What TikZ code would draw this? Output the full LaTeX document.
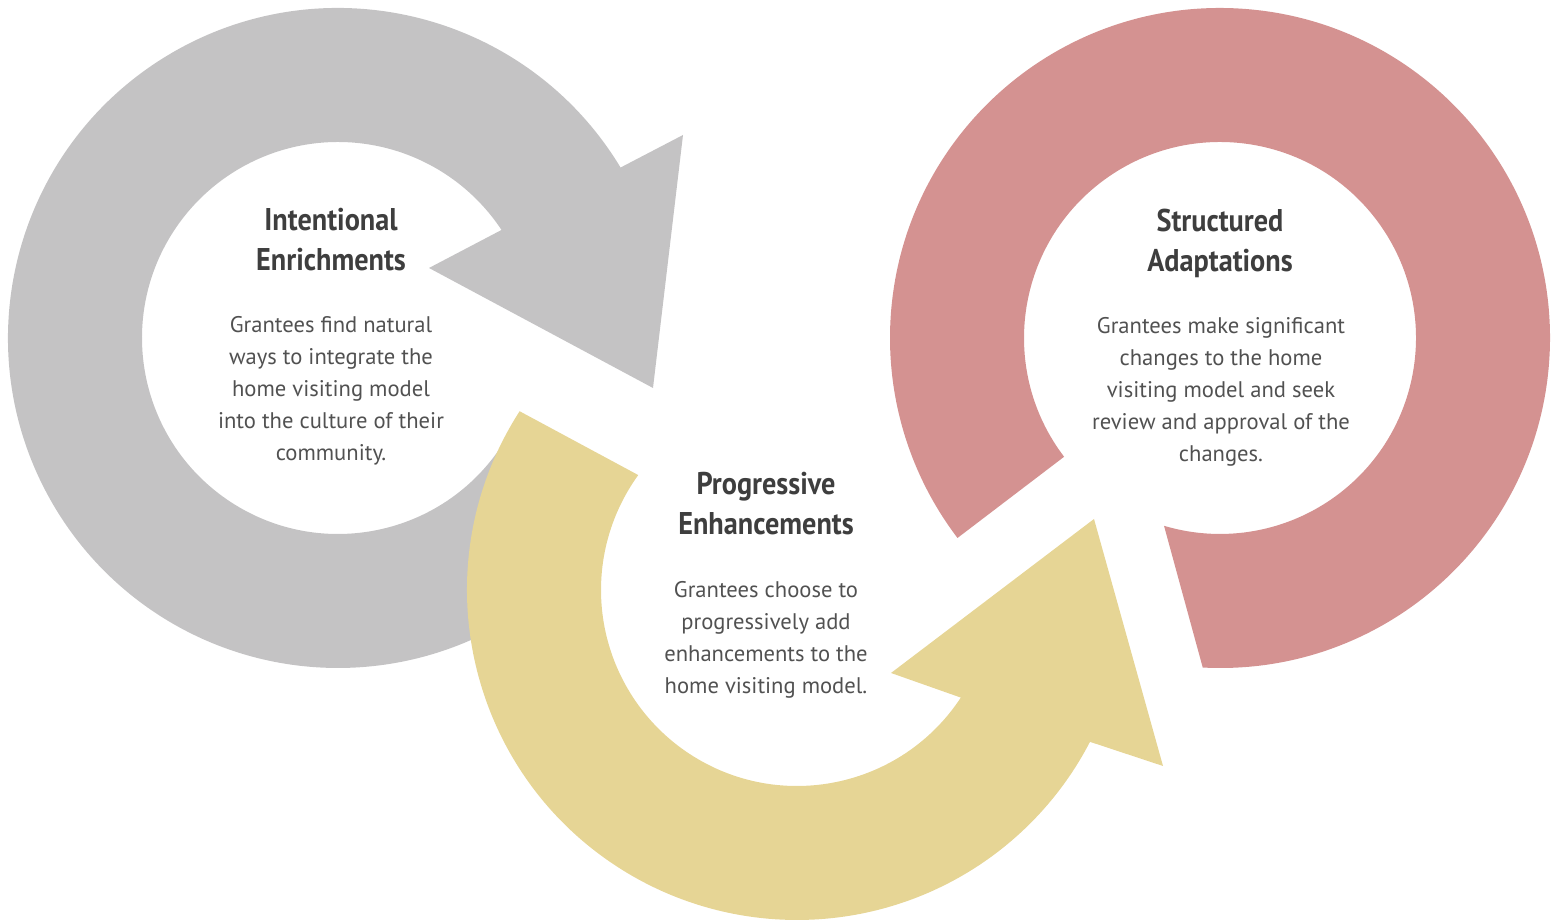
\documentclass[tikz,border=0pt]{standalone}
\usepackage{fontspec}
\setmainfont{PT Sans}
\newfontfamily\headfont{PT Sans}[FakeStretch=0.9]
\usetikzlibrary{calc,positioning}
\definecolor{ringgray}{RGB}{196,195,196}
\definecolor{ringyellow}{RGB}{230,213,149}
\definecolor{ringred}{RGB}{212,146,145}
\definecolor{txt}{RGB}{62,62,62}

\begin{document}
\begin{tikzpicture}[
    x=0.5pt, y=0.5pt,
    title/.style={align=center, font=\headfont\fontsize{15.7}{20}\selectfont\bfseries, text=txt},
    body/.style={align=center, font=\fontsize{11.3}{16}\selectfont, text=txt!90}
]
    \useasboundingbox (0,0) rectangle (1557,924);
    \coordinate (gc) at (338,586);
    \coordinate (yc) at (797,334);
    \coordinate (rc) at (1220,586);

    \fill[ringred] ($(rc)+(267:330)$) arc[start angle=267, end angle=577.3, radius=330]
        -- ($(rc)+(217.3:196)$) arc[start angle=577.3, end angle=253.4, radius=196] -- cycle;
    \fill[ringgray] ($(gc)+(31.1:330)$) arc[start angle=31.1, end angle=325.5, radius=330]
        -- ($(gc)+(325.5:196)$) arc[start angle=325.5, end angle=33.45, radius=196]
        -- (429,656) -- (653,536) -- (683,789) -- cycle;
    \fill[ringyellow] ($(yc)+(147.2:330)$) arc[start angle=147.2, end angle=332.6, radius=330]
        -- (1163,158) -- (1094,405) -- (891,251)
        -- ($(yc)+(326.7:196)$) arc[start angle=326.7, end angle=144.1, radius=196] -- cycle;

    \node[title] (enrich) at (331,684) {Intentional\\Enrichments};
    \node[body] (enrichtxt) at (331,533) {Grantees find natural\\ways to integrate the\\home visiting model\\into the culture of their\\community.};
    \node[title] (enhance) at (766,420) {Progressive\\Enhancements};
    \node[body] (enhancetxt) at (766,284) {Grantees choose to\\progressively add\\enhancements to the\\home visiting model.};
    \node[title] (adapt) at (1220,681) {Structured\\Adaptations};
    \node[body] (adapttxt) at (1221,532) {Grantees make significant\\changes to the home\\visiting model and seek\\review and approval of the\\changes.};
\end{tikzpicture}
\end{document}
